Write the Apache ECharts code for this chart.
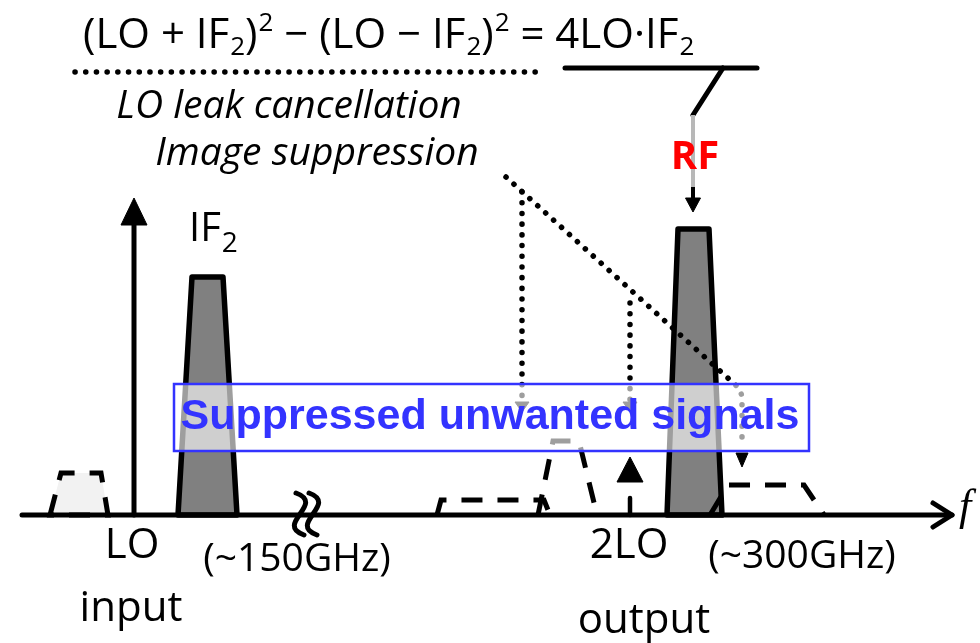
<!DOCTYPE html>
<html>
<head>
<meta charset="utf-8">
<script src="https://cdn.jsdelivr.net/npm/echarts/dist/echarts.min.js"></script>
<style>
  html, body { margin: 0; padding: 0; background: #fff; }
  #chart { width: 980px; height: 643px; }
</style>
</head>
<body>
<div id="chart"></div>
<script>
// Diagram space: x = frequency position (diagram units), y = amplitude (baseline = 0)
// Signal bands (vertices: [frequency, amplitude])
const loInputBand  = [[50,0],[61,42],[101,42],[108,0]];
const if2Band      = [[178,0],[192,238],[223,238],[237,0]];
const rfBand       = [[667,0],[678,286],[709,286],[722,0]];
const lowSideBand  = [[437,0],[441,15],[544,15],[550,0]];
const tallUnwanted = [[538,0],[553,74],[579,74],[597,0]];
const imageBand    = [[710,0],[728,30],[804,30],[824,0]];
const lo2LeakStem  = [[630,0],[630,17]];
const lo2LeakTip   = [630,58];

// Axes
const freqAxisLine = [[22,0],[952,0]];
const ampAxisLine  = [[134,0],[134,300]];
const ampAxisTip   = [134,317];
const axisBreakX   = [300,313];

// Annotation paths
const eqUnderline  = [[75,443],[538,443]];
const diagPointer  = [[506,338],[740,126],[742,118],[742,72]];
const diagTip      = [742,48];
const vertPointer1 = [[522,323],[522,113]];
const vertPointer2 = [[630,212],[630,113]];
const vertTips     = [[522,103],[630,103]];
const rfBar        = [[565,447],[757,447]];
const rfLeader     = [[723,447],[693,400]];
const rfGrayLink   = [[693,400],[693,328]];
const rfShaft      = [[693,328],[693,312]];
const rfTip        = [693,303];
const suppressBox  = [[174,131],[809,64]];

// Text labels
const eqParts = ['(LO + IF', '2', ')', '2', ' \u2212 (LO \u2212 IF', '2', ')', '2', ' = 4LO\u00b7IF', '2'];
const eqKinds = ['m','sub','m','sup','m','sub','m','sup','m','sub'];

const chart = echarts.init(document.getElementById('chart'), null, { renderer: 'canvas' });

function polySeries(pts, style, z, closed) {
  return {
    type: 'custom', coordinateSystem: 'cartesian2d', z: z, silent: true, clip: false,
    data: [[0, 0]],
    renderItem: function (params, api) {
      const points = pts.map(function (p) { return api.coord(p); });
      return { type: closed ? 'polygon' : 'polyline', shape: { points: points }, style: style };
    }
  };
}
function arrowSeries(tips, dir, len, wid, color, z) {
  return {
    type: 'custom', coordinateSystem: 'cartesian2d', z: z, silent: true, clip: false,
    data: tips,
    renderItem: function (params, api) {
      const t = api.coord([api.value(0), api.value(1)]);
      const s = dir === 'up' ? 1 : -1;
      return {
        type: 'polygon',
        shape: { points: [[t[0], t[1]], [t[0] - wid / 2, t[1] + s * len], [t[0] + wid / 2, t[1] + s * len]] },
        style: { fill: color, stroke: color, lineWidth: 1, lineJoin: 'miter' }
      };
    }
  };
}

const solid = function (w, c) { return { stroke: c || '#000', lineWidth: w, fill: null, lineCap: 'round', lineJoin: 'round' }; };
const dashed = { stroke: '#000', lineWidth: 5, fill: null, lineDash: [21, 15], lineCap: 'butt', lineJoin: 'miter' };
const dotted = { stroke: '#000', lineWidth: 5.5, fill: null, lineDash: [0.1, 10.6], lineCap: 'round' };

const series = [
  polySeries(loInputBand, { fill: '#f2f2f2', stroke: '#000', lineWidth: 5, lineDash: [21, 15], lineJoin: 'miter' }, 1, true),
  polySeries(lowSideBand, dashed, 1, false),
  polySeries(tallUnwanted, dashed, 1, false),
  polySeries(if2Band, { fill: '#808080', stroke: '#000', lineWidth: 5.5, lineJoin: 'round' }, 1, true),
  polySeries(rfBand, { fill: '#808080', stroke: '#000', lineWidth: 5.5, lineJoin: 'round' }, 1, true),
  polySeries(imageBand, dashed, 2, false),
  polySeries(lo2LeakStem, solid(4.5), 3, false),
  arrowSeries([lo2LeakTip], 'up', 25, 26, '#000', 3),
  polySeries(freqAxisLine, solid(5), 3, false),
  polySeries(ampAxisLine, solid(5), 3, false),
  arrowSeries([ampAxisTip], 'up', 27, 26, '#000', 3),
  {
    type: 'custom', coordinateSystem: 'cartesian2d', z: 3, silent: true, clip: false,
    data: [freqAxisLine[1]],
    renderItem: function (params, api) {
      const t = api.coord([api.value(0), api.value(1)]);
      return { type: 'polyline', shape: { points: [[t[0] - 19, t[1] - 12], [t[0], t[1]], [t[0] - 19, t[1] + 12]] },
               style: solid(5) };
    }
  },
  {
    type: 'custom', coordinateSystem: 'cartesian2d', z: 3, silent: true, clip: false,
    data: axisBreakX.map(function (x) { return [x, 1]; }),
    renderItem: function (params, api) {
      const c = api.coord([api.value(0), api.value(1)]);
      return { type: 'bezierCurve',
               shape: { x1: c[0] - 4, y1: c[1] - 21, cpx1: c[0] + 26, cpy1: c[1] - 10, cpx2: c[0] - 26, cpy2: c[1] + 10, x2: c[0] + 4, y2: c[1] + 21 },
               style: { stroke: '#000', lineWidth: 5, fill: null, lineCap: 'round' } };
    }
  },
  polySeries(eqUnderline, dotted, 4, false),
  polySeries(diagPointer, dotted, 4, false),
  polySeries(vertPointer1, dotted, 4, false),
  polySeries(vertPointer2, dotted, 4, false),
  arrowSeries([diagTip], 'down', 14, 12, '#000', 4),
  arrowSeries(vertTips, 'down', 10, 14, '#000', 4),
  polySeries(rfBar, solid(5), 4, false),
  polySeries(rfLeader, solid(5), 4, false),
  polySeries(rfGrayLink, { stroke: '#b8b8b8', lineWidth: 4, fill: null }, 4, false),
  polySeries(rfShaft, { stroke: '#000', lineWidth: 4, fill: null }, 4, false),
  arrowSeries([rfTip], 'down', 14, 15, '#000', 4),
  {
    type: 'custom', coordinateSystem: 'cartesian2d', z: 5, silent: true, clip: false,
    data: [[0, 0]],
    renderItem: function (params, api) {
      const a = api.coord(suppressBox[0]);
      const b = api.coord(suppressBox[1]);
      return { type: 'rect', shape: { x: a[0], y: a[1], width: b[0] - a[0], height: b[1] - a[1] },
               style: { fill: 'rgba(255,255,255,0.62)', stroke: '#3333ff', lineWidth: 2.5 } };
    }
  }
];

const eqText = eqParts.map(function (p, i) { return '{' + eqKinds[i] + '|' + p + '}'; }).join('');
const base = 'Open Sans';

chart.setOption({
  animation: false,
  grid: { left: 0, right: 0, top: 0, bottom: 0, containLabel: false },
  xAxis: { type: 'value', min: 0, max: 980, show: false },
  yAxis: { type: 'value', min: -128, max: 515, show: false },
  series: series,
  graphic: [
    { type: 'text', z: 100, x: 83, y: 36, style: { text: eqText, align: 'left', verticalAlign: 'middle', fill: '#000',
      rich: {
        m:   { fontFamily: base, fontSize: 42, lineHeight: 60, verticalAlign: 'middle', fill: '#000' },
        sup: { fontFamily: base, fontSize: 26, verticalAlign: 'top', padding: [5, 0, 0, 1], fill: '#000' },
        sub: { fontFamily: base, fontSize: 26, verticalAlign: 'top', padding: [29, 0, 0, 1], fill: '#000' }
      } } },
    { type: 'text', z: 100, x: 289, y: 107, style: { text: 'LO leak cancellation', font: 'italic 39px "Open Sans"', align: 'center', verticalAlign: 'middle', fill: '#000' } },
    { type: 'text', z: 100, x: 317, y: 154, style: { text: 'Image suppression', font: 'italic 39px "Open Sans"', align: 'center', verticalAlign: 'middle', fill: '#000' } },
    { type: 'text', z: 100, x: 695, y: 158, style: { text: 'RF', font: 'bold 40px "Open Sans"', align: 'center', verticalAlign: 'middle', fill: '#ff0000' } },
    { type: 'text', z: 100, x: 189, y: 230, style: { text: '{m|IF}{sub|2}', align: 'left', verticalAlign: 'middle', fill: '#000',
      rich: {
        m:   { fontFamily: base, fontSize: 40, lineHeight: 56, verticalAlign: 'middle', fill: '#000' },
        sub: { fontFamily: base, fontSize: 28, verticalAlign: 'top', padding: [29, 0, 0, 1], fill: '#000' }
      } } },
    { type: 'text', z: 100, x: 490, y: 417, style: { text: 'Suppressed unwanted signals', font: 'bold 43px "Liberation Sans"', align: 'center', verticalAlign: 'middle', fill: '#3333ff' } },
    { type: 'text', z: 100, x: 132, y: 546, style: { text: 'LO', font: '42px "Open Sans"', align: 'center', verticalAlign: 'middle', fill: '#000' } },
    { type: 'text', z: 100, x: 131, y: 609, style: { text: 'input', font: '42px "Open Sans"', align: 'center', verticalAlign: 'middle', fill: '#000' } },
    { type: 'text', z: 100, x: 297, y: 560, style: { text: '(~150GHz)', font: '39px "Open Sans"', align: 'center', verticalAlign: 'middle', fill: '#000' } },
    { type: 'text', z: 100, x: 629, y: 546, style: { text: '2LO', font: '42px "Open Sans"', align: 'center', verticalAlign: 'middle', fill: '#000' } },
    { type: 'text', z: 100, x: 802, y: 557, style: { text: '(~300GHz)', font: '39px "Open Sans"', align: 'center', verticalAlign: 'middle', fill: '#000' } },
    { type: 'text', z: 100, x: 644, y: 621, style: { text: 'output', font: '42px "Open Sans"', align: 'center', verticalAlign: 'middle', fill: '#000' } },
    { type: 'text', z: 100, x: 965, y: 508, style: { text: 'f', font: 'italic 44px "Liberation Serif"', align: 'center', verticalAlign: 'middle', fill: '#000' } }
  ]
});
</script>
</body>
</html>
